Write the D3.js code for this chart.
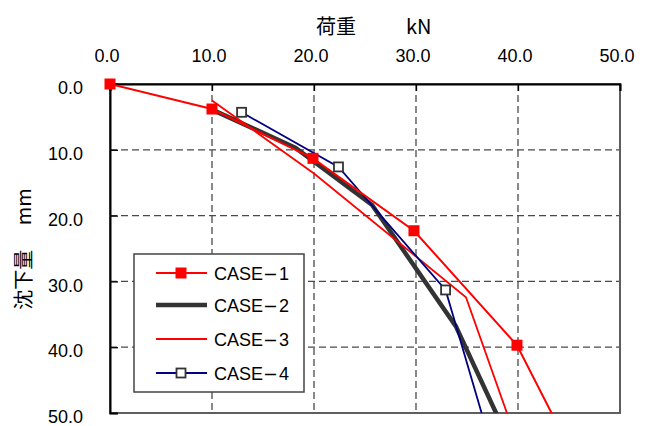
<!DOCTYPE html>
<html>
<head>
<meta charset="utf-8">
<script src="https://cdn.jsdelivr.net/npm/d3@7"></script>
<style>
  body { margin: 0; background: #fff; }
  text { font-family: "Liberation Sans", Arial, sans-serif; fill: #000; }
  .jp { font-family: "Noto Sans CJK JP", sans-serif; }
</style>
</head>
<body>
<div id="chart"></div>
<script>
var svgWidth = 652;
var svgHeight = 426;

var margin = {
  top: 84,
  right: 32,
  bottom: 13,
  left: 110
};

var width = svgWidth - margin.left - margin.right;
var height = svgHeight - margin.top - margin.bottom;

// data: load (kN) and settlement (mm)
var seriesNames = ["CASE-1", "CASE-2", "CASE-3", "CASE-4"];
var case1Load = [0.0, 10.0, 19.9, 29.8, 39.9, 45.0];
var case1Settle = [0.0, 3.8, 11.3, 22.3, 39.7, 55.2];
var case2Load = [10.0, 18.2, 25.7, 33.9, 38.9];
var case2Settle = [3.9, 9.7, 18.4, 36.8, 53.5];
var case3Load = [10.0, 20.0, 34.9, 39.6];
var case3Settle = [2.5, 13.6, 32.4, 53.0];
var case4Load = [12.9, 22.4, 32.9, 37.0];
var case4Settle = [4.3, 12.6, 31.3, 53.0];
var tickValues = [0, 10, 20, 30, 40, 50];

function zipCase(loads, settles) {
  return loads.map(function(d, i) {
    return { load: d, settle: settles[i] };
  });
}

var series = [
  { name: seriesNames[0], values: zipCase(case1Load, case1Settle), color: "#ff0000", width: 2, marker: "filled" },
  { name: seriesNames[1], values: zipCase(case2Load, case2Settle), color: "#333333", width: 4.5, marker: null },
  { name: seriesNames[2], values: zipCase(case3Load, case3Settle), color: "#ff0000", width: 1.8, marker: null },
  { name: seriesNames[3], values: zipCase(case4Load, case4Settle), color: "#000080", width: 1.8, marker: "open" }
];

var svg = d3.select("#chart")
  .append("svg")
  .attr("width", svgWidth)
  .attr("height", svgHeight);

var chartGroup = svg.append("g")
  .attr("transform", `translate(${margin.left}, ${margin.top})`);

var xScale = d3.scaleLinear().domain([0, 50]).range([0, width]);
var yScale = d3.scaleLinear().domain([0, 50]).range([0, height]);

svg.append("defs").append("clipPath")
  .attr("id", "plotClip")
  .append("rect")
  .attr("width", width)
  .attr("height", height);

// dashed grid
chartGroup.selectAll(".vgrid")
  .data(tickValues.slice(1, -1))
  .enter()
  .append("line")
  .attr("x1", d => xScale(d))
  .attr("x2", d => xScale(d))
  .attr("y1", 0)
  .attr("y2", height)
  .attr("stroke", "#4a4a4a")
  .attr("stroke-width", 1.3)
  .attr("stroke-dasharray", "7,4");

chartGroup.selectAll(".hgrid")
  .data(tickValues.slice(1, -1))
  .enter()
  .append("line")
  .attr("x1", 0)
  .attr("x2", width)
  .attr("y1", d => yScale(d))
  .attr("y2", d => yScale(d))
  .attr("stroke", "#4a4a4a")
  .attr("stroke-width", 1.3)
  .attr("stroke-dasharray", "7,4");

// frame (right and bottom in grey)
chartGroup.append("rect")
  .attr("width", width)
  .attr("height", height)
  .attr("fill", "none")
  .attr("stroke", "#5e5e5e")
  .attr("stroke-width", 2);

// axes: top and left, ticks pointing inward
var topAxis = d3.axisTop(xScale)
  .tickValues(tickValues)
  .tickFormat(d3.format(".1f"))
  .tickSize(-7)
  .tickPadding(22);

var leftAxis = d3.axisLeft(yScale)
  .tickValues(tickValues)
  .tickFormat(d3.format(".1f"))
  .tickSize(-8)
  .tickPadding(27);

var xAxis = chartGroup.append("g").call(topAxis);
var yAxis = chartGroup.append("g").call(leftAxis);

[xAxis, yAxis].forEach(function(ax) {
  ax.select(".domain").attr("stroke", "#000").attr("stroke-width", 2);
  ax.selectAll(".tick line").attr("stroke", "#000").attr("stroke-width", 1.3);
  ax.selectAll("text")
    .style("font-family", "\"Liberation Sans\", Arial, sans-serif")
    .style("font-size", "18px")
    .attr("fill", "#000");
});
xAxis.selectAll("text").attr("dx", -3.5);
yAxis.selectAll("text").attr("dy", "0.54em");

// series lines
var line = d3.line()
  .x(d => xScale(d.load))
  .y(d => yScale(d.settle));

var drawOrder = [1, 2, 3, 0];
var linesGroup = chartGroup.append("g").attr("clip-path", "url(#plotClip)");

drawOrder.forEach(function(i) {
  var s = series[i];
  linesGroup.append("path")
    .datum(s.values)
    .attr("d", line)
    .attr("fill", "none")
    .attr("stroke", s.color)
    .attr("stroke-width", s.width)
    .attr("stroke-linejoin", "miter");
});

// markers
function drawMarker(g, s, cx, cy) {
  if (s.marker === "filled") {
    g.append("rect")
      .attr("x", cx - 5.5)
      .attr("y", cy - 5.5)
      .attr("width", 11)
      .attr("height", 11)
      .attr("fill", "#ff0000");
  } else if (s.marker === "open") {
    g.append("rect")
      .attr("x", cx - 4.5)
      .attr("y", cy - 4.5)
      .attr("width", 9)
      .attr("height", 9)
      .attr("fill", "#fff")
      .attr("stroke", "#333")
      .attr("stroke-width", 1.8);
  }
}

[3, 0].forEach(function(i) {
  var s = series[i];
  var markerGroup = chartGroup.append("g");
  s.values.filter(d => d.settle <= 50).forEach(function(d) {
    drawMarker(markerGroup, s, xScale(d.load), yScale(d.settle));
  });
});

// axis titles
var xTitle = svg.append("text")
  .attr("class", "jp")
  .attr("y", 34)
  .style("font-size", "20px");
xTitle.append("tspan").attr("x", 316).text("荷重");
xTitle.append("tspan").attr("x", 406).text("kN");

svg.append("text")
  .attr("class", "jp")
  .attr("transform", "translate(31, 249) rotate(-90)")
  .attr("text-anchor", "middle")
  .style("font-size", "20px")
  .text("沈下量　 mm");

// legend
var legend = svg.append("g")
  .attr("transform", "translate(134, 254)");

legend.append("rect")
  .attr("width", 170)
  .attr("height", 138)
  .attr("fill", "#fff")
  .attr("stroke", "#444")
  .attr("stroke-width", 1.5);

var rowY = [19, 51, 85, 119];

series.forEach(function(s, i) {
  var row = legend.append("g")
    .attr("transform", `translate(0, ${rowY[i]})`);

  row.append("line")
    .attr("x1", 22)
    .attr("x2", 73)
    .attr("y1", 0)
    .attr("y2", 0)
    .attr("stroke", s.color)
    .attr("stroke-width", s.width);

  drawMarker(row, s, 47, 0);

  var label = row.append("text")
    .attr("x", 80)
    .attr("y", 6.5)
    .style("font-size", "18px");
  var parts = s.name.split("-");
  label.append("tspan").text(parts[0]);
  label.append("tspan")
    .attr("textLength", 15)
    .attr("lengthAdjust", "spacingAndGlyphs")
    .text("-");
  label.append("tspan").attr("dx", 1).text(parts[1]);
});
</script>
</body>
</html>
